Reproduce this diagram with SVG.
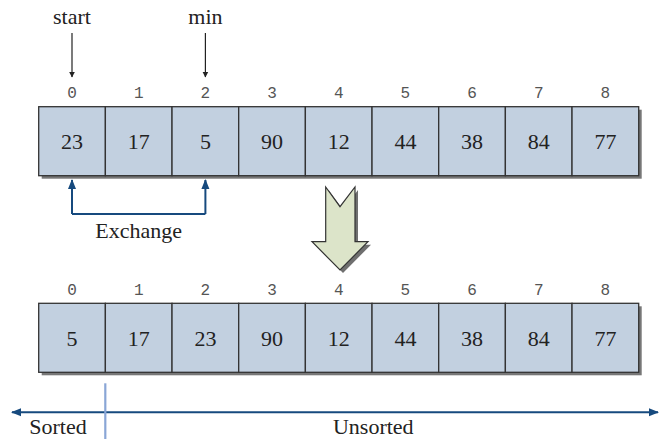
<svg xmlns="http://www.w3.org/2000/svg" width="659" height="439" viewBox="0 0 659 439">
<style>
.cell{fill:#c2d0e0;stroke:#333;stroke-width:1.3}
.shadow{fill:#777}
.val{font-family:"Liberation Serif",serif;font-size:22px;fill:#222;text-anchor:middle}
.idx{font-family:"Liberation Mono",monospace;font-size:16px;fill:#555;text-anchor:middle}
.lbl{font-family:"Liberation Serif",serif;font-size:22px;fill:#222;text-anchor:middle}
.blk{stroke:#222;stroke-width:1.2;fill:none}
.blue{stroke:#164a7e;stroke-width:2;fill:none}
</style>
<defs>
<marker id="ab" viewBox="0 0 10 10" refX="9" refY="5" markerWidth="6" markerHeight="8" markerUnits="userSpaceOnUse" orient="auto"><path d="M0,0L10,5L0,10z" fill="#222"/></marker>
<marker id="ablue" viewBox="0 0 10 10" refX="9" refY="5" markerWidth="10" markerHeight="10" markerUnits="userSpaceOnUse" orient="auto-start-reverse"><path d="M0,1L10,5L0,9z" fill="#164a7e"/></marker>
</defs>
<g id="top-array">
<rect class="shadow" x="41.7" y="109.7" width="600" height="69"/>
<rect class="cell" x="38.7" y="106.7" width="66.67" height="69"/>
<rect class="cell" x="105.37" y="106.7" width="66.67" height="69"/>
<rect class="cell" x="172.03" y="106.7" width="66.67" height="69"/>
<rect class="cell" x="238.7" y="106.7" width="66.67" height="69"/>
<rect class="cell" x="305.37" y="106.7" width="66.67" height="69"/>
<rect class="cell" x="372.03" y="106.7" width="66.67" height="69"/>
<rect class="cell" x="438.7" y="106.7" width="66.67" height="69"/>
<rect class="cell" x="505.37" y="106.7" width="66.67" height="69"/>
<rect class="cell" x="572.03" y="106.7" width="66.67" height="69"/>
<g class="idx">
<text x="72" y="98">0</text><text x="138.7" y="98">1</text><text x="205.4" y="98">2</text><text x="272" y="98">3</text><text x="338.7" y="98">4</text><text x="405.4" y="98">5</text><text x="472" y="98">6</text><text x="538.7" y="98">7</text><text x="605.4" y="98">8</text>
</g>
<g class="val">
<text x="72" y="149">23</text><text x="138.7" y="149">17</text><text x="205.4" y="149">5</text><text x="272" y="149">90</text><text x="338.7" y="149">12</text><text x="405.4" y="149">44</text><text x="472" y="149">38</text><text x="538.7" y="149">84</text><text x="605.4" y="149">77</text>
</g>
</g>
<g id="bottom-array">
<rect class="shadow" x="41.7" y="306.3" width="600" height="69"/>
<rect class="cell" x="38.7" y="303.3" width="66.67" height="69"/>
<rect class="cell" x="105.37" y="303.3" width="66.67" height="69"/>
<rect class="cell" x="172.03" y="303.3" width="66.67" height="69"/>
<rect class="cell" x="238.7" y="303.3" width="66.67" height="69"/>
<rect class="cell" x="305.37" y="303.3" width="66.67" height="69"/>
<rect class="cell" x="372.03" y="303.3" width="66.67" height="69"/>
<rect class="cell" x="438.7" y="303.3" width="66.67" height="69"/>
<rect class="cell" x="505.37" y="303.3" width="66.67" height="69"/>
<rect class="cell" x="572.03" y="303.3" width="66.67" height="69"/>
<g class="idx">
<text x="72" y="294.5">0</text><text x="138.7" y="294.5">1</text><text x="205.4" y="294.5">2</text><text x="272" y="294.5">3</text><text x="338.7" y="294.5">4</text><text x="405.4" y="294.5">5</text><text x="472" y="294.5">6</text><text x="538.7" y="294.5">7</text><text x="605.4" y="294.5">8</text>
</g>
<g class="val">
<text x="72" y="345.7">5</text><text x="138.7" y="345.7">17</text><text x="205.4" y="345.7">23</text><text x="272" y="345.7">90</text><text x="338.7" y="345.7">12</text><text x="405.4" y="345.7">44</text><text x="472" y="345.7">38</text><text x="538.7" y="345.7">84</text><text x="605.4" y="345.7">77</text>
</g>
</g>
<g id="start-label"><text class="lbl" x="72" y="24">start</text></g>
<g id="min-label"><text class="lbl" x="205.4" y="24">min</text></g>
<g id="big-arrow">
<path d="M328.7,190 L343,209.7 L358,190 L358,244.7 L371,244.7 L343,273 L315,244.7 L328.7,244.7 Z" fill="#6f6f6f"/>
<path d="M325.7,187 L340,206.7 L355,187 L355,241.7 L368,241.7 L340,270 L312,241.7 L325.7,241.7 Z" fill="#dce4c9" stroke="#333" stroke-width="1.2"/>
</g>
<g id="exchange-label"><text class="lbl" x="138.7" y="238">Exchange</text></g>
<g id="sorted-label"><text class="lbl" x="58" y="434">Sorted</text></g>
<g id="unsorted-label"><text class="lbl" x="373.3" y="434">Unsorted</text></g>
<g id="connectors">
<line class="blk" x1="72" y1="33" x2="72" y2="77" marker-end="url(#ab)"/>
<line class="blk" x1="205.4" y1="33" x2="205.4" y2="77" marker-end="url(#ab)"/>
<path class="blue" d="M72,214 L205.4,214" />
<line class="blue" x1="72" y1="214" x2="72" y2="180" marker-end="url(#ablue)"/>
<line class="blue" x1="205.4" y1="214" x2="205.4" y2="180" marker-end="url(#ablue)"/>
<line class="blue" x1="12" y1="412.3" x2="658" y2="412.3" marker-start="url(#ablue)" marker-end="url(#ablue)"/>
<line x1="105.3" y1="383.3" x2="105.3" y2="439" stroke="#8aa6d6" stroke-width="2.2"/>
</g>
</svg>
